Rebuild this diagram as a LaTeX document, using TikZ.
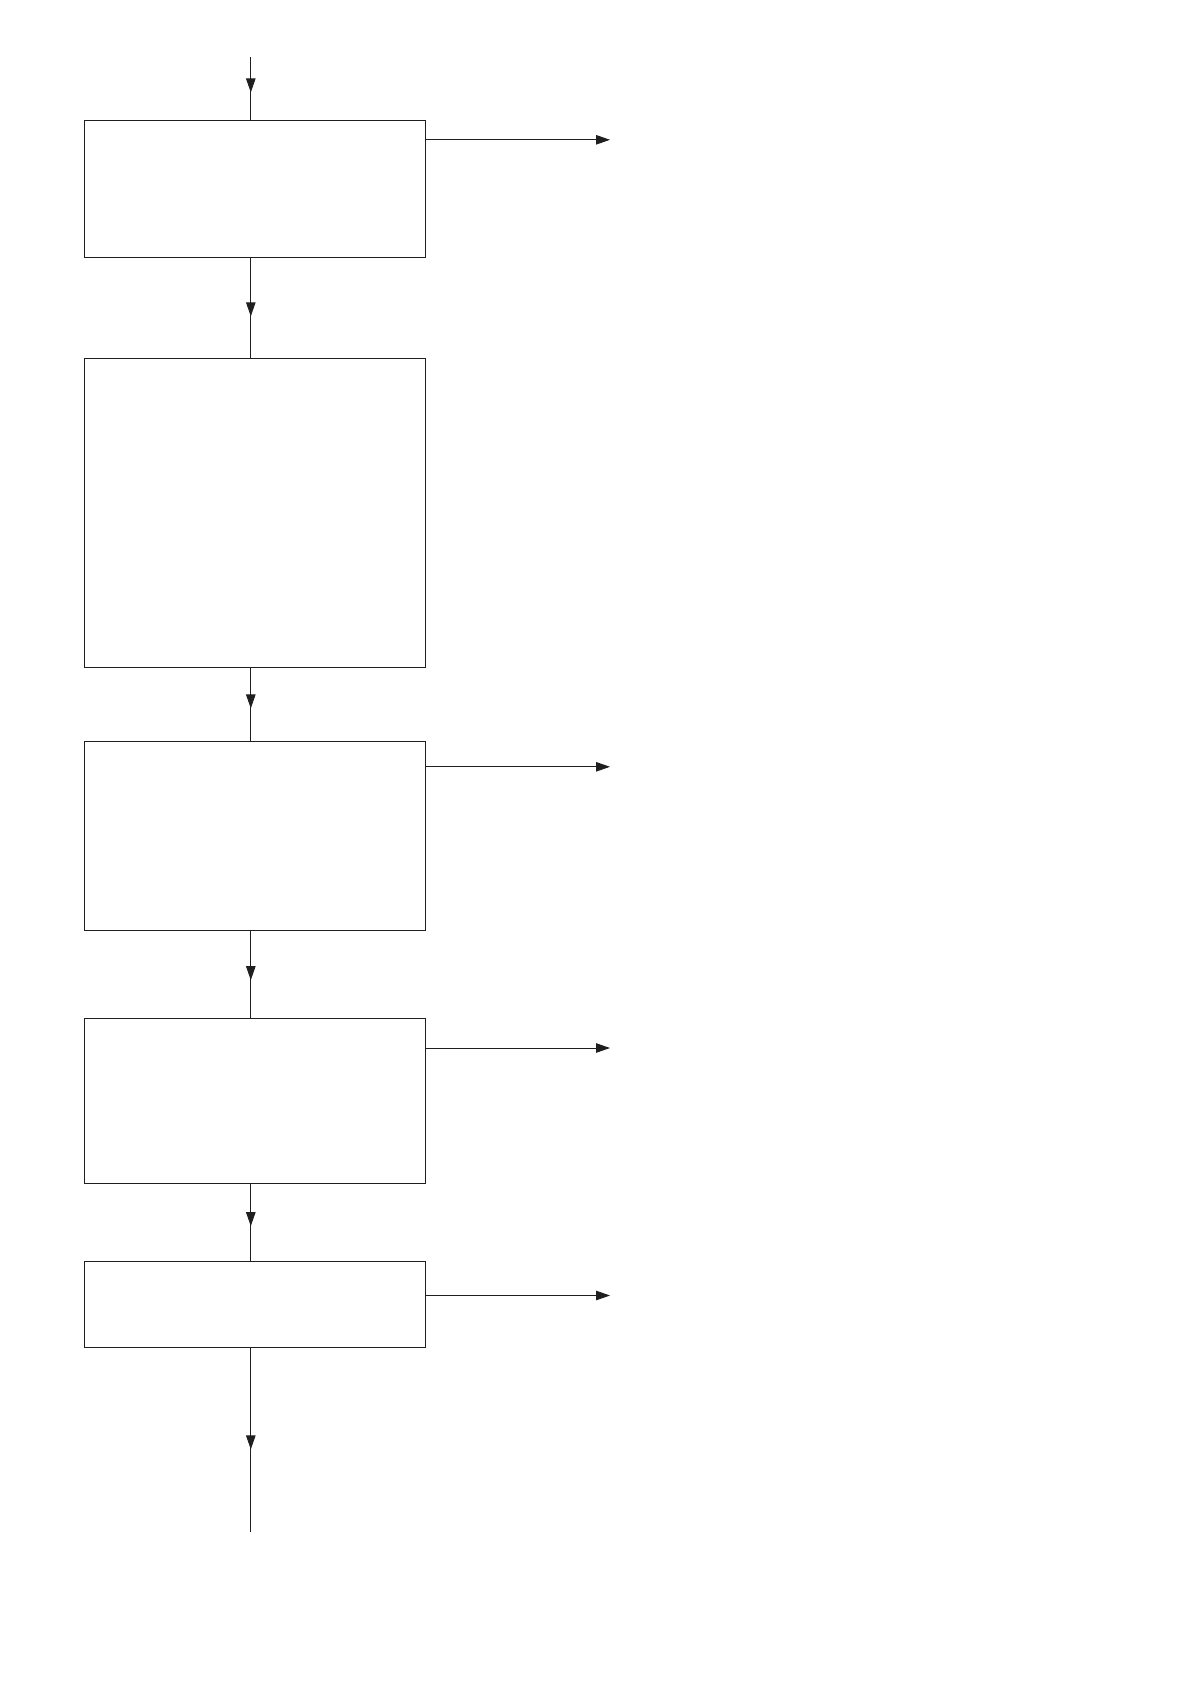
\documentclass[tikz,border=0pt]{standalone}
\usetikzlibrary{arrows.meta,decorations.markings}
\begin{document}
\begin{tikzpicture}[x=1pt,y=-1pt,
  line width=0.9pt, draw={black!88},
  box/.style={draw, rectangle, inner sep=0pt, outer sep=0pt, anchor=north west, minimum width=340.5pt},
  tip/.style={-{Triangle[length=14pt,width=9.5pt]}},
  midarrow/.style={postaction={decorate, decoration={markings,
      mark=at position #1 with {\arrow{Triangle[length=14pt,width=9.5pt]}}}}}]
\useasboundingbox (0,0) rectangle (1190,1684);
\node[box, minimum height=137.5pt] (b1) at (84.8,120.3) {};
\node[box, minimum height=308.3pt] (b2) at (84.8,358.7) {};
\node[box, minimum height=189pt] (b3) at (84.8,741) {};
\node[box, minimum height=165.5pt] (b4) at (84.8,1018) {};
\node[box, minimum height=86pt] (b5) at (84.8,1261) {};
\coordinate (top) at (250.8,57);
\coordinate (bot) at (250.8,1531.5);
\coordinate (o1) at (610,139.8);
\coordinate (o3) at (610,766.8);
\coordinate (o4) at (610,1048);
\coordinate (o5) at (610,1295.5);
\draw[midarrow=0.56] (top) -- (top |- b1.north);
\draw[midarrow=0.58] (b1.south -| top) -- (b2.north -| top);
\draw[midarrow=0.56] (b2.south -| top) -- (b3.north -| top);
\draw[midarrow=0.57] (b3.south -| top) -- (b4.north -| top);
\draw[midarrow=0.55] (b4.south -| top) -- (b5.north -| top);
\draw[midarrow=0.555] (b5.south -| top) -- (bot);
\draw[tip] (o1 -| b1.east) -- (o1);
\draw[tip] (o3 -| b3.east) -- (o3);
\draw[tip] (o4 -| b4.east) -- (o4);
\draw[tip] (o5 -| b5.east) -- (o5);
\end{tikzpicture}
\end{document}
